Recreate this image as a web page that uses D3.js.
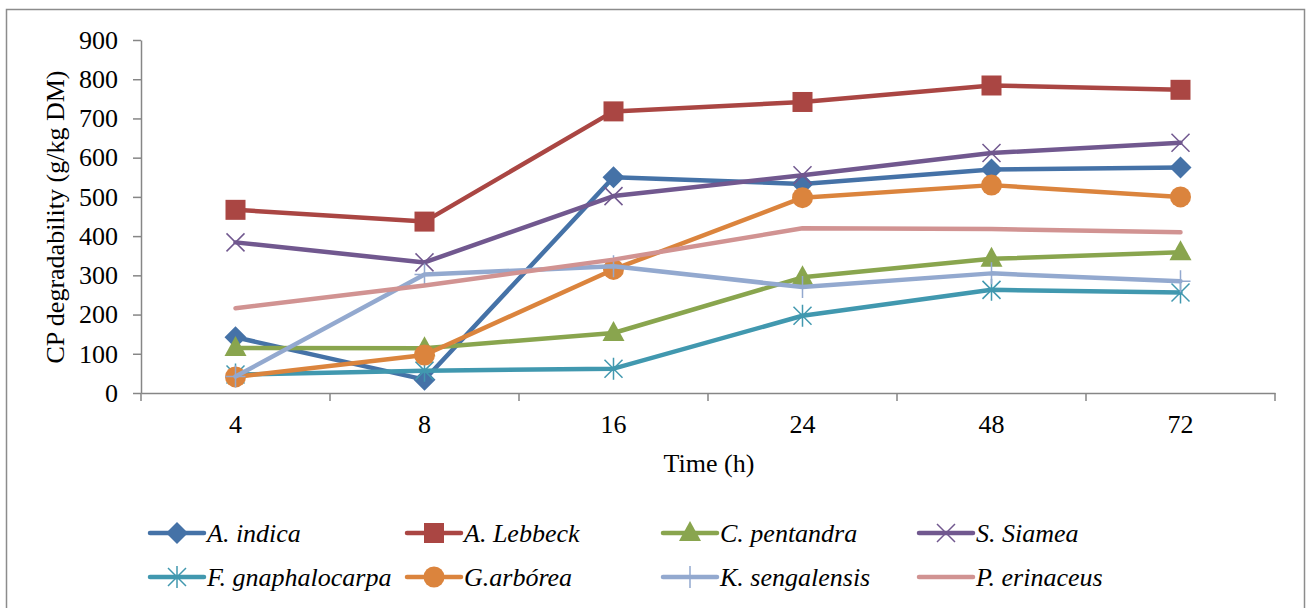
<!DOCTYPE html>
<html>
<head>
<meta charset="utf-8">
<script src="https://cdn.jsdelivr.net/npm/d3@7"></script>
<style>
  body { margin: 0; background: #fff; }
  svg text { font-family: "Liberation Serif", "Tinos", "Times New Roman", Times, serif !important; fill: #000; }
</style>
</head>
<body>
<svg id="chart" width="1310" height="608"></svg>
<script>
const times = ["4", "8", "16", "24", "48", "72"];
const yTicks = [0, 100, 200, 300, 400, 500, 600, 700, 800, 900];

const aIndica = [142, 34, 550, 533, 570, 575];
const aLebbeck = [467, 437, 718, 742, 784, 773];
const cPentandra = [115, 114, 153, 295, 342, 359];
const sSiamea = [384, 333, 502, 555, 612, 638];
const fGnaphalocarpa = [47, 57, 62, 197, 263, 256];
const gArborea = [41, 97, 315, 498, 530, 500];
const kSengalensis = [42, 302, 323, 270, 305, 285];
const pErinaceus = [216, 274, 340, 420, 418, 410];

const series = [
  { name: "A. indica", values: aIndica, color: "#4572A7", marker: "diamond" },
  { name: "A. Lebbeck", values: aLebbeck, color: "#AA4643", marker: "square" },
  { name: "C. pentandra", values: cPentandra, color: "#89A54E", marker: "triangle" },
  { name: "S. Siamea", values: sSiamea, color: "#71588F", marker: "x" },
  { name: "F. gnaphalocarpa", values: fGnaphalocarpa, color: "#4198AF", marker: "star" },
  { name: "G.arbórea", values: gArborea, color: "#DB843D", marker: "circle" },
  { name: "K. sengalensis", values: kSengalensis, color: "#93A9CF", marker: "plus" },
  { name: "P. erinaceus", values: pErinaceus, color: "#D19392", marker: "none" }
];

const svg = d3.select("#chart");

// outer frame
svg.append("rect")
  .attr("x", 6.5).attr("y", 9.5)
  .attr("width", 1298).attr("height", 610)
  .attr("fill", "none").attr("stroke", "#8c8c8c").attr("stroke-width", 1.5);

const x = d3.scaleBand().domain(times).range([141, 1275]);
const y = d3.scaleLinear().domain([0, 900]).range([393, 40]);
const cx = t => x(t) + x.bandwidth() / 2;

// y axis
const yAxis = svg.append("g")
  .attr("transform", "translate(141,0)")
  .call(d3.axisLeft(y).tickValues(yTicks).tickSize(8).tickPadding(15).tickSizeOuter(0));
yAxis.attr("font-size", 26);
yAxis.select(".domain").attr("stroke", "#868686").attr("stroke-width", 1.5);
yAxis.selectAll(".tick line").attr("stroke", "#868686").attr("stroke-width", 1.5);
yAxis.selectAll("text").attr("fill", "#000");

// x axis
const xAxis = svg.append("g")
  .attr("transform", "translate(0,393)")
  .call(d3.axisBottom(x).tickSize(0).tickPadding(22));
xAxis.attr("font-size", 26);
xAxis.select(".domain").attr("stroke", "#868686").attr("stroke-width", 1.5);
xAxis.selectAll("text").attr("fill", "#000");
// tick marks on band boundaries
const bounds = times.map(t => x(t)).concat([x.range()[1]]);
xAxis.selectAll(".bound")
  .data(bounds)
  .enter()
  .append("line")
  .attr("x1", d => d).attr("x2", d => d)
  .attr("y1", 0).attr("y2", 8)
  .attr("stroke", "#868686").attr("stroke-width", 1.5);

// axis titles
svg.append("text")
  .attr("transform", "translate(64,217) rotate(-90)")
  .attr("text-anchor", "middle")
  .attr("font-size", 26)
  .text("CP degradability (g/kg DM)");

svg.append("text")
  .attr("x", 709).attr("y", 472)
  .attr("text-anchor", "middle")
  .attr("font-size", 26)
  .text("Time (h)");

function drawMarker(g, type, color, px, py) {
  if (type === "diamond") {
    g.append("path").attr("d", `M${px},${py - 11}L${px + 11},${py}L${px},${py + 11}L${px - 11},${py}Z`).attr("fill", color);
  } else if (type === "square") {
    g.append("rect").attr("x", px - 10).attr("y", py - 10).attr("width", 20).attr("height", 20).attr("fill", color);
  } else if (type === "triangle") {
    g.append("path").attr("d", `M${px},${py - 12}L${px + 11},${py + 8}L${px - 11},${py + 8}Z`).attr("fill", color);
  } else if (type === "circle") {
    g.append("circle").attr("cx", px).attr("cy", py).attr("r", 10.5).attr("fill", color);
  } else if (type === "x") {
    g.append("path").attr("d", `M${px - 9},${py - 9}L${px + 9},${py + 9}M${px - 9},${py + 9}L${px + 9},${py - 9}`)
      .attr("stroke", color).attr("stroke-width", 1.5);
  } else if (type === "star") {
    g.append("path").attr("d", `M${px - 9},${py - 9}L${px + 9},${py + 9}M${px - 9},${py + 9}L${px + 9},${py - 9}M${px},${py - 11}L${px},${py + 11}`)
      .attr("stroke", color).attr("stroke-width", 1.5);
  } else if (type === "plus") {
    g.append("path").attr("d", `M${px - 10},${py}L${px + 10},${py}M${px},${py - 11}L${px},${py + 11}`)
      .attr("stroke", color).attr("stroke-width", 1.5);
  }
}

const line = d3.line().x((d, i) => cx(times[i])).y(d => y(d));

series.forEach(s => {
  const g = svg.append("g");
  g.append("path")
    .datum(s.values)
    .attr("d", line)
    .attr("fill", "none")
    .attr("stroke", s.color)
    .attr("stroke-width", 4.5)
    .attr("stroke-linecap", "round")
    .attr("stroke-linejoin", "round");
  s.values.forEach((v, i) => drawMarker(g, s.marker, s.color, cx(times[i]), y(v)));
});

// legend
const legendCols = [150, 407, 663, 919];
const legendRows = [533, 577];
series.forEach((s, i) => {
  const lx = legendCols[i % 4];
  const ly = legendRows[Math.floor(i / 4)];
  const g = svg.append("g");
  g.append("line")
    .attr("x1", lx).attr("x2", lx + 54)
    .attr("y1", ly).attr("y2", ly)
    .attr("stroke", s.color).attr("stroke-width", 4.5).attr("stroke-linecap", "round");
  drawMarker(g, s.marker, s.color, lx + 27, ly);
  g.append("text")
    .attr("x", lx + 57).attr("y", ly + 9)
    .attr("font-size", 26)
    .attr("font-style", "italic")
    .text(s.name);
});
</script>
</body>
</html>
